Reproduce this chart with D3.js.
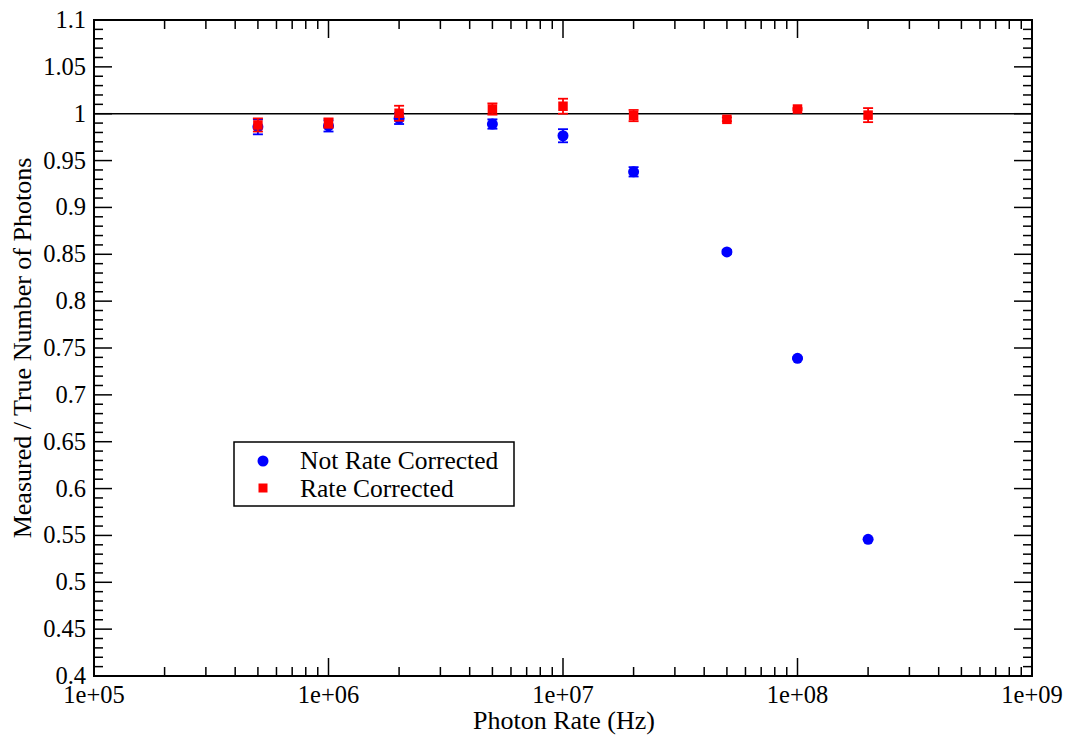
<!DOCTYPE html>
<html><head><meta charset="utf-8">
<script src="https://cdn.jsdelivr.net/npm/d3@7"></script>
<style>body{margin:0;background:#fff}svg{display:block}text{font-family:"Liberation Serif","Times New Roman",serif;fill:#000}</style>
</head><body><svg id="c" width="1072" height="740"></svg>
<script>
const rates = [5e5, 1e6, 2e6, 5e6, 1e7, 2e7, 5e7, 1e8, 2e8];
const notCorrected = [0.986, 0.987, 0.995, 0.989, 0.9765, 0.938, 0.8525, 0.739, 0.5458];
const notCorrectedErr = [0.008, 0.006, 0.006, 0.005, 0.007, 0.005, 0.002, 0.001, 0.001];
const corrected = [0.988, 0.990, 1.0005, 1.005, 1.008, 0.998, 0.994, 1.005, 0.9985];
const correctedErr = [0.007, 0.005, 0.008, 0.006, 0.008, 0.006, 0.002, 0.001, 0.0075];
const xTicks = [1e5, 1e6, 1e7, 1e8, 1e9];
const yTicks = d3.range(0.4, 1.1001, 0.05).map(v => +v.toFixed(2));
const seriesNames = ["Not Rate Corrected", "Rate Corrected"];

const svg = d3.select("#c");
const L = 94, R = 1032, T = 20, B = 676;
const x = d3.scaleLog().domain([1e5, 1e9]).range([L, R]);
const y = d3.scaleLinear().domain([0.4, 1.1]).range([B, T]);

const xMinor = [];
for (let e = 5; e < 9; e++) for (let m = 2; m <= 9; m++) xMinor.push(m * Math.pow(10, e));
const yMinor = d3.range(40, 111).map(v => v / 100).filter(v => Math.round(v * 100) % 5 !== 0);

const tk = svg.append("g").attr("stroke", "#000").attr("stroke-width", 1.5);
xMinor.forEach(v => {
  tk.append("line").attr("x1", x(v)).attr("x2", x(v)).attr("y1", B).attr("y2", B - 9);
  tk.append("line").attr("x1", x(v)).attr("x2", x(v)).attr("y1", T).attr("y2", T + 9);
});
xTicks.forEach(v => {
  tk.append("line").attr("x1", x(v)).attr("x2", x(v)).attr("y1", B).attr("y2", B - 18);
  tk.append("line").attr("x1", x(v)).attr("x2", x(v)).attr("y1", T).attr("y2", T + 18);
});
yMinor.forEach(v => {
  tk.append("line").attr("x1", L).attr("x2", L + 9).attr("y1", y(v)).attr("y2", y(v));
  tk.append("line").attr("x1", R).attr("x2", R - 9).attr("y1", y(v)).attr("y2", y(v));
});
yTicks.forEach(v => {
  tk.append("line").attr("x1", L).attr("x2", L + 18).attr("y1", y(v)).attr("y2", y(v));
  tk.append("line").attr("x1", R).attr("x2", R - 18).attr("y1", y(v)).attr("y2", y(v));
});

yTicks.forEach(v => {
  svg.append("text").attr("x", 86).attr("y", y(v) + 8).attr("text-anchor", "end")
    .attr("font-size", 24.5).text(d3.format("")(v));
});
xTicks.forEach(v => {
  const e = Math.round(Math.log10(v));
  svg.append("text").attr("x", x(v)).attr("y", 703).attr("text-anchor", "middle")
    .attr("font-size", 24.5).text("1e+" + String(e).padStart(2, "0"));
});
svg.append("text").attr("x", (L + R) / 2 + 1).attr("y", 729).attr("text-anchor", "middle")
  .attr("font-size", 26).text("Photon Rate (Hz)");
svg.append("text").attr("transform", `translate(31,${(T + B) / 2}) rotate(-90)`)
  .attr("text-anchor", "middle").attr("font-size", 26).text("Measured / True Number of Photons");

svg.append("line").attr("x1", L).attr("x2", R).attr("y1", y(1)).attr("y2", y(1))
  .attr("stroke", "#000").attr("stroke-width", 1.5);

svg.append("rect").attr("x", L).attr("y", T).attr("width", R - L).attr("height", B - T)
  .attr("fill", "none").attr("stroke", "#000").attr("stroke-width", 2);

function errBars(vals, errs, color) {
  const g = svg.append("g").attr("stroke", color).attr("stroke-width", 1.8);
  rates.forEach((r, i) => {
    const cx = x(r), y1 = y(vals[i] + errs[i]), y2 = y(vals[i] - errs[i]);
    g.append("line").attr("x1", cx).attr("x2", cx).attr("y1", y1).attr("y2", y2);
    g.append("line").attr("x1", cx - 5).attr("x2", cx + 5).attr("y1", y1).attr("y2", y1);
    g.append("line").attr("x1", cx - 5).attr("x2", cx + 5).attr("y1", y2).attr("y2", y2);
  });
}
errBars(notCorrected, notCorrectedErr, "#0000ff");
svg.append("g").selectAll("circle").data(notCorrected).join("circle")
  .attr("cx", (d, i) => x(rates[i])).attr("cy", d => y(d)).attr("r", 5.5).attr("fill", "#0000ff");
errBars(corrected, correctedErr, "#ff0000");
svg.append("g").selectAll("rect").data(corrected).join("rect")
  .attr("x", (d, i) => x(rates[i]) - 4.75).attr("y", d => y(d) - 4.75)
  .attr("width", 9.5).attr("height", 9.5).attr("fill", "#ff0000");

svg.append("rect").attr("x", 234).attr("y", 442).attr("width", 280).attr("height", 64)
  .attr("fill", "#fff").attr("stroke", "#000").attr("stroke-width", 1.5);
svg.append("circle").attr("cx", 263).attr("cy", 461).attr("r", 5.5).attr("fill", "#0000ff");
svg.append("rect").attr("x", 258.5).attr("y", 483.5).attr("width", 9).attr("height", 9).attr("fill", "#ff0000");
svg.append("text").attr("x", 300).attr("y", 469).attr("font-size", 25.5).text(seriesNames[0]);
svg.append("text").attr("x", 300).attr("y", 497).attr("font-size", 25.5).text(seriesNames[1]);
</script></body></html>
